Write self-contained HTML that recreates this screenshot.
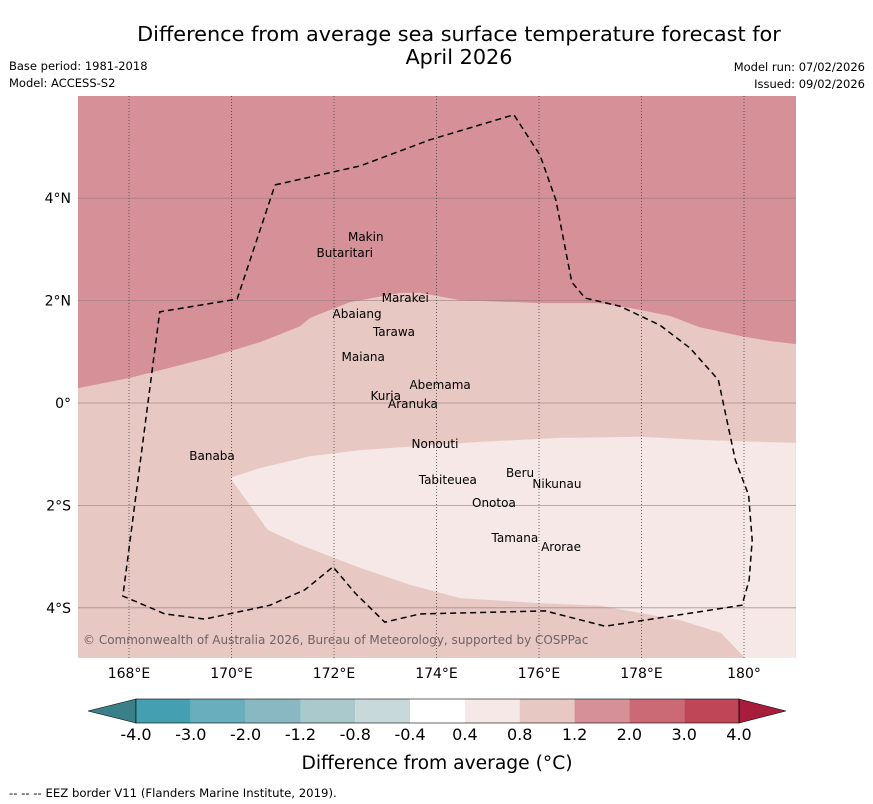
<!DOCTYPE html>
<html><head><meta charset="utf-8"><style>
body{margin:0;background:#fff;width:873px;height:804px;overflow:hidden;font-family:"DejaVu Sans","Liberation Sans",sans-serif;}
svg{display:block}
</style></head><body>
<svg id="chart" width="873" height="804" viewBox="0 0 873 804">
<text x="459" y="41" font-size="20.8" text-anchor="middle">Difference from average sea surface temperature forecast for</text>
<text x="459" y="64" font-size="20.8" text-anchor="middle">April 2026</text>
<text x="9" y="70" font-size="11.5">Base period: 1981-2018</text>
<text x="9" y="87" font-size="11.5">Model: ACCESS-S2</text>
<text x="865" y="71" font-size="11.5" text-anchor="end">Model run: 07/02/2026</text>
<text x="865" y="88" font-size="11.5" text-anchor="end">Issued: 09/02/2026</text>
<defs><clipPath id="mapclip"><rect x="78" y="96" width="718" height="562"/></clipPath></defs>
<g id="map" clip-path="url(#mapclip)"></g>
<g id="axes"></g>
<g id="cbar"></g>
<text x="437" y="769" font-size="18.7" text-anchor="middle">Difference from average (°C)</text>
<text x="9" y="797" font-size="11.7">--  --  -- EEZ border V11 (Flanders Marine Institute, 2019).</text>
</svg>
<script>
const lonTicks=[168,170,172,174,176,178,180];
const lonTickLabels=["168°E","170°E","172°E","174°E","176°E","178°E","180°"];
const latTicks=[4,2,0,-2,-4];
const latTickLabels=["4°N","2°N","0°","2°S","4°S"];
const warmBoundaryLon=[167.0,168.02,169.54,170.56,171.34,171.53,172.31,173.29,173.68,174.46,176.02,177.19,177.97,178.56,179.14,179.92,180.51,181.01];
const warmBoundaryLat=[0.29,0.49,0.88,1.19,1.5,1.66,1.97,2.15,2.15,2.01,1.95,1.95,1.82,1.70,1.48,1.31,1.21,1.15];
const coolRegionLon=[169.97,170.56,171.53,172.51,173.68,174.85,176.41,177.97,179.14,181.01,181.01,180.02,179.55,178.75,177.19,176.02,174.46,173.48,172.51,171.34,170.71];
const coolRegionLat=[-1.46,-1.27,-1.04,-0.92,-0.84,-0.76,-0.68,-0.66,-0.72,-0.78,-4.98,-4.98,-4.49,-4.24,-3.96,-3.91,-3.81,-3.55,-3.22,-2.77,-2.48];
const eezLon=[170.85,172.51,173.87,175.51,176.02,176.33,176.64,176.90,177.58,178.36,178.95,179.50,179.83,180.09,180.16,180.10,179.96,177.29,176.12,173.68,172.99,172.41,171.98,171.43,170.75,169.48,168.70,167.88,168.60,170.11,170.85];
const eezLat=[4.26,4.63,5.14,5.63,4.84,3.96,2.36,2.05,1.89,1.52,1.07,0.45,-1.11,-1.80,-2.68,-3.46,-3.95,-4.36,-4.06,-4.12,-4.28,-3.71,-3.20,-3.65,-3.95,-4.22,-4.12,-3.77,1.78,2.03,4.26];
const islandNames=["Makin","Butaritari","Marakei","Abaiang","Tarawa","Maiana","Abemama","Kuria","Aranuka","Nonouti","Banaba","Beru","Nikunau","Tabiteuea","Onotoa","Tamana","Arorae"];
const islandLon=[172.62,172.21,173.39,172.45,173.17,172.57,174.07,173.01,173.54,173.97,169.62,175.63,176.35,174.22,175.12,175.53,176.43];
const islandLat=[3.24,2.93,2.05,1.74,1.39,0.90,0.35,0.14,-0.02,-0.80,-1.04,-1.37,-1.58,-1.50,-1.95,-2.64,-2.81];
const cbarLevels=["-4.0","-3.0","-2.0","-1.2","-0.8","-0.4","0.4","0.8","1.2","2.0","3.0","4.0"];
const cbarColors=["#44a0b0","#69aebc","#89b8c2","#a9c9cd","#c8d9dc","#ffffff","#f5e8e6","#e8c8c3","#d69097","#cb6a74","#bf4656"];

const NS="http://www.w3.org/2000/svg";
const X=lon=>129+(lon-168)*51.25;
const Y=lat=>403-lat*51.2;
function mk(tag,attrs,parent){const e=document.createElementNS(NS,tag);for(const k in attrs)e.setAttribute(k,attrs[k]);parent.appendChild(e);return e;}
const map=document.getElementById('map');
const axes=document.getElementById('axes');
let e;
e=mk('rect',{x:78,y:96,width:718,height:562,fill:'#e8c8c3'},map);


let d='M'+X(167)+','+Y(7);
warmBoundaryLon.forEach((l,i)=>{d+=' L'+X(l)+','+Y(warmBoundaryLat[i]);});
d+=' L'+X(182)+','+Y(7)+' Z';
e=mk('path',{d:d,fill:'#d69097'},map);


d=coolRegionLon.map((l,i)=>(i?'L':'M')+X(l)+','+Y(coolRegionLat[i])).join(' ')+' Z';
e=mk('path',{d:d,fill:'#f5e8e6'},map);


latTicks.forEach(t=>{e=mk('line',{x1:78,x2:796,y1:Y(t),y2:Y(t),stroke:'#9a7f80','stroke-width':0.8,opacity:0.8},map);

});
lonTicks.forEach(t=>{e=mk('line',{x1:X(t),x2:X(t),y1:96,y2:658,stroke:'#333','stroke-width':0.7,'stroke-dasharray':'1,2'},map);

});
d=eezLon.map((l,i)=>(i?'L':'M')+X(l)+','+Y(eezLat[i])).join(' ');
e=mk('path',{d:d,fill:'none',stroke:'#000','stroke-width':1.5,'stroke-dasharray':'6,4'},map);


islandNames.forEach((n,i)=>{e=mk('text',{x:X(islandLon[i]),y:Y(islandLat[i])+4,'font-size':12,'text-anchor':'middle',fill:'#000'},map);e.textContent=n;

});
e=mk('text',{x:83,y:644,'font-size':12,fill:'#6e6464'},map);e.textContent='© Commonwealth of Australia 2026, Bureau of Meteorology, supported by COSPPac';


lonTicks.forEach((t,i)=>{e=mk('text',{x:X(t),y:678,'font-size':14,'text-anchor':'middle'},axes);e.textContent=lonTickLabels[i];

});
latTicks.forEach((t,i)=>{e=mk('text',{x:71,y:Y(t)+5,'font-size':14,'text-anchor':'end'},axes);e.textContent=latTickLabels[i];

});
const cb=document.getElementById('cbar');
const cx0=136,cw=(739-136)/cbarColors.length,cy=699,ch=24;
e=mk('polygon',{points:`88,711 ${cx0},${cy} ${cx0},${cy+ch}`,fill:'#3b7f89',stroke:'#000','stroke-width':0.6},cb);


cbarColors.forEach((c,i)=>{e=mk('rect',{x:cx0+i*cw,y:cy,width:cw,height:ch,fill:c},cb);

});
e=mk('polygon',{points:`739,${cy} 786,711 739,${cy+ch}`,fill:'#a81d3c',stroke:'#000','stroke-width':0.6},cb);


mk('rect',{x:cx0,y:cy,width:739-cx0,height:ch,fill:'none',stroke:'#000','stroke-width':0.6},cb);
cbarLevels.forEach((l,i)=>{e=mk('text',{x:cx0+i*cw,y:740,'font-size':16,'text-anchor':'middle'},cb);e.textContent=l;

});
</script>
</body></html>
